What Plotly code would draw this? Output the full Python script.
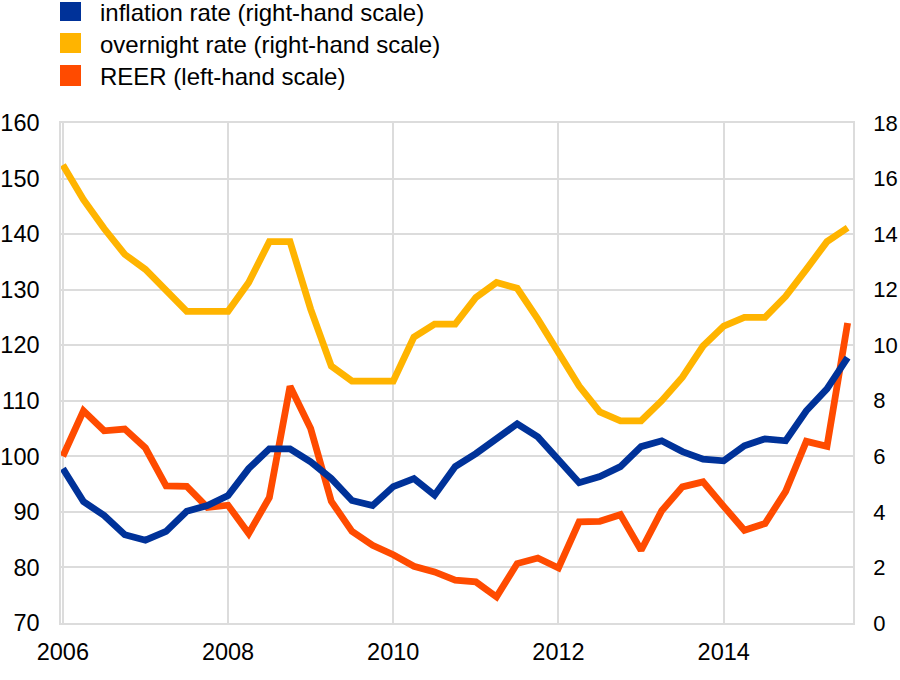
import plotly.graph_objects as go

# quarterly observations 2006Q1 .. 2015Q3
quarters = [f"{y}Q{q}" for y in range(2006, 2016) for q in range(1, 5)][:39]

reer = [100.0, 108.2, 104.6, 104.9, 101.5, 94.7, 94.6, 90.8, 91.2, 86.1,
        92.6, 112.6, 105.0, 91.9, 86.5, 84.0, 82.3, 80.2, 79.2, 77.7,
        77.4, 74.7, 80.7, 81.7, 79.9, 88.2, 88.3, 89.5, 83.1, 90.2,
        94.5, 95.4, 91.0, 86.7, 87.9, 93.7, 102.7, 101.8, 124.0]

inflation = [5.56, 4.37, 3.87, 3.18, 2.98, 3.30, 4.02, 4.23, 4.59, 5.56,
             6.27, 6.27, 5.80, 5.20, 4.41, 4.23, 4.91, 5.20, 4.60, 5.63,
             6.10, 6.63, 7.17, 6.70, 5.85, 5.05, 5.27, 5.63, 6.35, 6.56,
             6.17, 5.90, 5.84, 6.38, 6.63, 6.56, 7.64, 8.43, 9.55]

overnight = [16.49, 15.24, 14.20, 13.27, 12.73, 12.01, 11.22, 11.22, 11.22, 12.26,
             13.73, 13.73, 11.30, 9.25, 8.71, 8.71, 8.71, 10.29, 10.76, 10.76,
             11.72, 12.26, 12.05, 10.94, 9.75, 8.53, 7.60, 7.28, 7.28, 8.00,
             8.85, 9.97, 10.69, 11.00, 11.00, 11.76, 12.73, 13.73, 14.23]

names = ["inflation rate (right-hand scale)",
         "overnight rate (right-hand scale)",
         "REER (left-hand scale)"]
colors = ["#003299", "#FFB400", "#FF4B00"]

x_ticks = [2006, 2008, 2010, 2012, 2014]
left_ticks = list(range(70, 161, 10))
right_ticks = list(range(0, 19, 2))

xs = [int(q[:4]) + (int(q[-1]) - 1) / 4 for q in quarters]

FONT = "Liberation Sans, Arial, sans-serif"
W, H = 900, 680
L, R, T, B = 61, 47, 123, 57
GRID = "#dcdcdc"
TICK_SIZE = 23.5

fig = go.Figure()
fig.add_trace(go.Scatter(x=xs, y=overnight, mode="lines", name=names[1],
                         line=dict(color=colors[1], width=6.8), yaxis="y2",
                         showlegend=False))
fig.add_trace(go.Scatter(x=xs, y=inflation, mode="lines", name=names[0],
                         line=dict(color=colors[0], width=6.8), yaxis="y2",
                         showlegend=False))
fig.add_trace(go.Scatter(x=xs, y=reer, mode="lines", name=names[2],
                         line=dict(color=colors[2], width=6.8), yaxis="y",
                         showlegend=False))

pw = W - L - R
ph = H - T - B
def px_x(px):
    return (px - L) / pw
def px_y(py):
    return (H - B - py) / ph

shapes = []
annotations = []
legend_rows = [(2, 21), (33, 53), (65, 86)]
for (y0, y1), c, n in zip(legend_rows, colors, names):
    shapes.append(dict(type="rect", xref="paper", yref="paper",
                       x0=px_x(60), x1=px_x(81), y0=px_y(y1), y1=px_y(y0),
                       fillcolor=c, line=dict(width=0)))
    annotations.append(dict(xref="paper", yref="paper", x=px_x(98),
                            y=px_y((y0 + y1) / 2 + 1), text=n, showarrow=False,
                            xanchor="left", yanchor="middle",
                            font=dict(family=FONT, size=24, color="#000000")))

fig.update_layout(
    width=W, height=H,
    margin=dict(l=L, r=R, t=T, b=B, autoexpand=False),
    paper_bgcolor="white", plot_bgcolor="white",
    font=dict(family=FONT, size=TICK_SIZE, color="#000000"),
    showlegend=False,
    shapes=shapes,
    annotations=annotations,
    xaxis=dict(range=[2006 - 0.022, 2015.565], tickvals=x_ticks,
               ticktext=[str(v) for v in x_ticks], automargin=False,
               showgrid=True, gridcolor=GRID, gridwidth=1.5,
               showline=True, linecolor=GRID, linewidth=1.5, mirror=True,
               ticks="", ticklabelstandoff=7, zeroline=False,
               tickfont=dict(size=TICK_SIZE)),
    yaxis=dict(range=[70, 160], tickvals=left_ticks, automargin=False,
               showgrid=True, gridcolor=GRID, gridwidth=1.5,
               showline=True, linecolor=GRID, linewidth=1.5,
               ticks="", ticklabelstandoff=15, zeroline=False,
               tickfont=dict(size=TICK_SIZE)),
    yaxis2=dict(range=[0, 18], tickvals=right_ticks, overlaying="y", side="right",
                automargin=False,
                showgrid=False, showline=True, linecolor=GRID, linewidth=1.5,
                ticks="", ticklabelstandoff=14, zeroline=False,
                tickfont=dict(size=22)),
)

fig.write_html("out.html",
               config={"displayModeBar": False},
               post_script="document.body.style.margin='0';"
                           "document.body.style.overflow='hidden';")
